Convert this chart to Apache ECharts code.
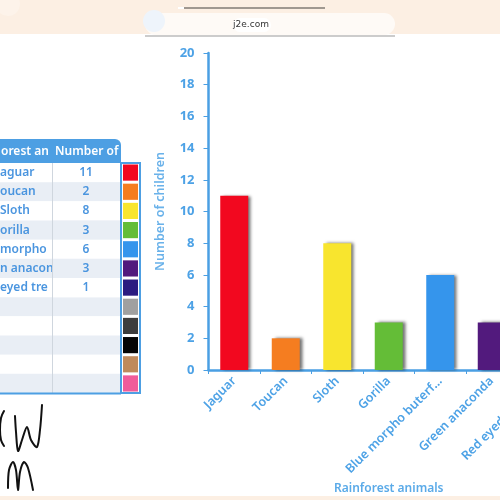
<!DOCTYPE html>
<html>
<head>
<meta charset="utf-8">
<script src="https://cdn.jsdelivr.net/npm/echarts@6/dist/echarts.min.js"></script>
<style>html,body{margin:0;padding:0;background:#fff}#c{width:500px;height:500px}</style>
</head>
<body>
<div id="c"></div>
<script>
const categories = ['Jaguar', 'Toucan', 'Sloth', 'Gorilla', 'Blue morpho buterfly', 'Green anaconda', 'Red eyed tree frog'];
const values = [11, 2, 8, 3, 6, 3, 1];
const palette = ['#f2081f', '#f57d20', '#f8e52e', '#64bd37', '#3595ec', '#521a7d', '#2b1b80', '#a0a0a0', '#3d3d3d', '#050505', '#bf8a5c', '#f05c9a'];
const tableNames = ['aguar', 'oucan', 'Sloth', 'orilla', 'morpho', 'n anacon', 'eyed tre'];
const tableHeaders = ['orest an', 'Number of'];
const yTicks = [0, 2, 4, 6, 8, 10, 12, 14, 16, 18, 20];
const xAxisTitle = 'Rainforest animals';
const yAxisTitle = 'Number of children';

const FONT = '"Noto Sans"';
const BLUE = '#4a9fe3';
const TXT = '#4da2e6';

const graphics = [];
// top browser band
graphics.push({type:'rect', shape:{x:0,y:0,width:500,height:34}, style:{fill:'#fcefe3'}, z:10});
graphics.push({type:'circle', shape:{cx:8,cy:4,r:12}, style:{fill:'#fdf3ea'}, z:11});
graphics.push({type:'rect', shape:{x:145,y:35,width:250,height:2}, style:{fill:'#9a9a9a', opacity:0.5}, z:11});
graphics.push({type:'rect', shape:{x:145,y:13,width:250,height:22,r:11}, style:{fill:'#fefaf6'}, z:11});
graphics.push({type:'circle', shape:{cx:154,cy:21,r:11}, style:{fill:'#eef4fb'}, z:12});
graphics.push({type:'line', shape:{x1:178,y1:8,x2:325,y2:8}, style:{stroke:'#a09890', lineWidth:2}, z:12});
graphics.push({type:'line', shape:{x1:178,y1:8,x2:184,y2:8}, style:{stroke:'#ffffff', lineWidth:2}, z:13});
graphics.push({type:'rect', shape:{x:233,y:18,width:38,height:14,r:7}, style:{fill:'#ffffff'}, z:12});
graphics.push({type:'text', x:251, y:25, style:{text:'j2e.com', fill:'#333', font:'9px "DejaVu Sans"', textAlign:'center', textVerticalAlign:'middle'}, z:13});
// bottom strip
graphics.push({type:'rect', shape:{x:0,y:496,width:500,height:4}, style:{fill:'#fcefe3'}, z:10});

// table
const rowH = 19.17, top0 = 163;
graphics.push({type:'rect', shape:{x:-10,y:139,width:131,height:25,r:[0,6,0,0]}, style:{fill:'#4d9fe3'}, z:5});
graphics.push({type:'text', x:1, y:152, style:{text:tableHeaders[0], fill:'#fff', font:'600 12px ' + FONT, textVerticalAlign:'middle'}, z:6});
graphics.push({type:'text', x:55, y:152, style:{text:tableHeaders[1], fill:'#fff', font:'600 12px ' + FONT, textVerticalAlign:'middle'}, z:6});
for (let i = 0; i < 12; i++) {
  const y = top0 + i * rowH;
  graphics.push({type:'rect', shape:{x:0,y:y,width:121,height:rowH}, style:{fill: i % 2 === 0 ? '#ffffff' : '#e9eef5'}, z:5});
  if (i < tableNames.length) {
    graphics.push({type:'text', x:0, y:y + rowH/2, style:{text:tableNames[i], fill:'#4a95df', font:'600 12px ' + FONT, textVerticalAlign:'middle'}, z:6});
    graphics.push({type:'rect', shape:{x:53,y:y,width:68,height:rowH}, style:{fill: i % 2 === 0 ? '#ffffff' : '#e9eef5'}, z:6});
    graphics.push({type:'text', x:86, y:y + rowH/2, style:{text:String(values[i]), fill:'#4a95df', font:'600 12px ' + FONT, textAlign:'center', textVerticalAlign:'middle'}, z:7});
  }
  graphics.push({type:'rect', shape:{x:123,y:y+1.5,width:15,height:rowH-3}, style:{fill:palette[i]}, z:8});
}
graphics.push({type:'line', shape:{x1:52.5,y1:163,x2:52.5,y2:393}, style:{stroke:'#cfd6de', lineWidth:1}, z:8});
graphics.push({type:'rect', shape:{x:121,y:163,width:19,height:230}, style:{fill:'none', stroke:'#4d9fe3', lineWidth:2}, z:9});
graphics.push({type:'line', shape:{x1:-5,y1:393.5,x2:121,y2:393.5}, style:{stroke:'#4d9fe3', lineWidth:2}, z:9});

// handwriting
const pen = {stroke:'#111', lineWidth:2, fill:'none', lineCap:'round', lineJoin:'round'};
graphics.push({type:'polyline', shape:{points:[[4,411],[1,418],[0,430],[1,440],[4,446]], smooth:0.4}, style:pen, z:5});
graphics.push({type:'polyline', shape:{points:[[15,416],[16,432],[18,451],[22,440],[27,427],[31,440],[37,447],[40,430],[42,405]], smooth:0.3}, style:pen, z:5});
graphics.push({type:'polyline', shape:{points:[[8,488],[9,470],[13,462],[16,470],[18,490],[20,472],[24,462],[28,468],[33,490]], smooth:0.3}, style:pen, z:5});

const option = {
  animation: false,
  grid: {left: 208.5, top: 53, width: 360.5, height: 317, containLabel: false, outerBoundsMode: 'none'},
  xAxis: {
    type: 'category',
    data: categories,
    name: xAxisTitle,
    nameLocation: 'middle',
    nameGap: 113,
    nameTextStyle: {color: '#5aaae8', fontFamily: FONT, fontSize: 12, fontWeight: 600},
    axisLine: {lineStyle: {color: BLUE, width: 2.5}},
    axisTick: {show: true, length: 4, lineStyle: {color: BLUE, width: 1}},
    axisLabel: {
      rotate: 45, color: TXT, fontFamily: FONT, fontSize: 12.5, fontWeight: 600, margin: 9, interval: 0,
      formatter: v => v.length > 18 ? v.slice(0, 18) + '...' : v
    }
  },
  yAxis: {
    type: 'value',
    min: yTicks[0], max: yTicks[yTicks.length - 1], interval: 2,
    name: yAxisTitle,
    nameLocation: 'middle',
    nameGap: 42,
    nameTextStyle: {color: '#6ab2ea', fontFamily: FONT, fontSize: 12.5, fontWeight: 600},
    axisLine: {show: true, lineStyle: {color: BLUE, width: 2.5}},
    axisTick: {show: true, length: 5, lineStyle: {color: BLUE, width: 1}},
    splitLine: {show: false},
    axisLabel: {color: TXT, fontFamily: FONT, fontSize: 13, fontWeight: 700, margin: 14}
  },
  series: [{
    type: 'bar',
    barWidth: 28,
    data: values.map((v, i) => ({value: v, itemStyle: {color: palette[i]}})),
    itemStyle: {shadowColor: 'rgba(0,0,0,0.55)', shadowBlur: 3, shadowOffsetX: 3, shadowOffsetY: 0}
  }],
  graphic: graphics
};
const chart = echarts.init(document.getElementById('c'));
chart.setOption(option);
</script>
</body>
</html>
